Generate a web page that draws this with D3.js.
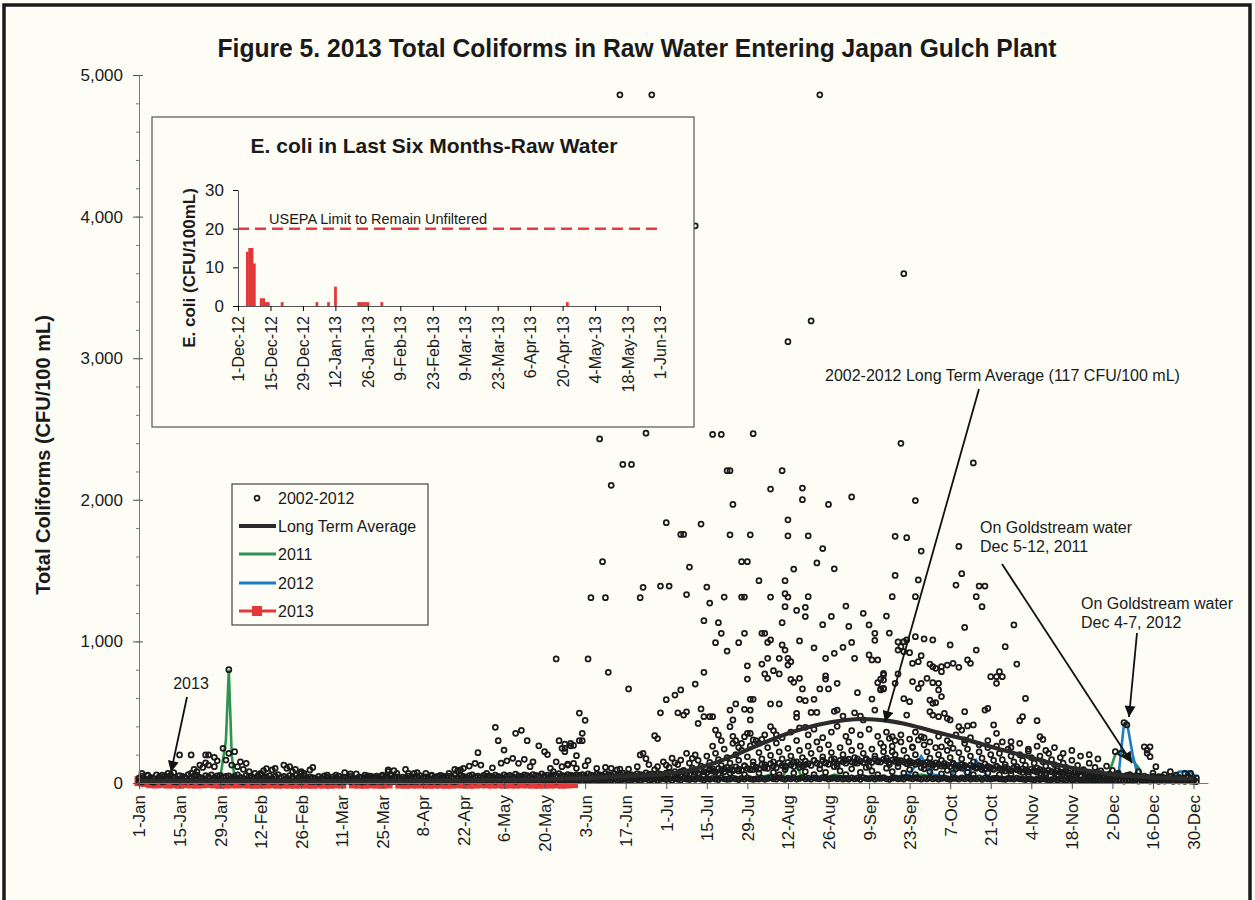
<!DOCTYPE html>
<html lang="en">
<head>
<meta charset="utf-8">
<title>Total Coliforms in Raw Water</title>
<script type="text/javascript" src="https://d3js.org/d3.v7.min.js"></script>
<style type="text/css">
    body{
        margin:0;
        background:#fdfdf5;
        font-family:"Liberation Sans", Arial, Helvetica, sans-serif;
    }
    svg text{ fill:#1a1a1a; }
</style>
</head>
<body>
<div id="chart"></div>
<script type="text/javascript">
// tick labels on the main chart (every 14 days from 1-Jan)
var tickLabels = ["1-Jan","15-Jan","29-Jan","12-Feb","26-Feb","11-Mar","25-Mar","8-Apr","22-Apr","6-May","20-May","3-Jun","17-Jun","1-Jul","15-Jul","29-Jul","12-Aug","26-Aug","9-Sep","23-Sep","7-Oct","21-Oct","4-Nov","18-Nov","2-Dec","16-Dec","30-Dec"]
var yTicks = [0,1000,2000,3000,4000,5000]

// 2002-2012 readings: lowest reading of each day, by month
var lowBandByMonth = [
    [12,8,15,20,10,6,14,18,9,12,22,16,10,8,25,14,12,18,10,15,20,8,12,16,14,10,22,18,12,9,15],
    [14,10,18,22,12,8,16,20,10,14,12,18,9,15,20,11,13,17,8,14,19,12,10,16,13,9,15,18,11],
    [10,14,8,12,16,9,13,11,15,8,12,10,14,9,16,11,13,8,12,15,10,9,14,12,8,16,11,13,10,15,9],
    [12,10,15,9,13,11,16,8,14,12,10,17,9,13,15,11,18,12,10,14,16,20,12,15,18,14,22,16,12,19],
    [15,20,12,18,24,14,16,22,18,12,20,25,16,14,22,18,20,15,24,18,16,22,20,14,26,18,22,16,20,24,18],
    [20,16,24,18,22,26,20,18,24,22,16,20,28,22,18,24,26,20,22,28,24,18,26,30,22,24,28,20,26,30],
    [24,28,20,30,26,22,32,28,24,30,26,34,28,22,30,26,32,28,24,36,30,26,28,34,30,24,32,28,36,30,26],
    [30,28,34,26,32,36,30,28,38,32,26,34,30,36,28,32,38,30,34,28,36,32,30,38,34,28,32,36,30,34,28],
    [32,28,36,30,34,26,38,32,30,36,28,34,32,38,30,26,34,36,30,32,28,38,34,30,36,32,28,34,30,36],
    [30,34,28,32,36,30,26,34,32,28,36,30,34,28,32,30,36,26,34,30,28,32,34,30,28,26,32,30,28,34,30],
    [28,24,30,26,22,28,24,30,26,20,24,28,22,26,24,20,28,22,24,26,20,22,18,24,20,22,18,20,16,22],
    [18,20,16,22,18,14,20,16,18,22,14,20,16,18,14,20,16,12,18,14,16,20,12,16,14,18,12,16,14,12,10]
]
// a second reading of each day, by month
var midBandByMonth = [
    [35,48,28,52,40,32,58,44,30,50,38,55,42,30,52,46,38,60,34,48,56,40,32,52,44,58,38,50,54,42,46],
    [50,36,46,58,40,32,54,46,42,34,50,56,38,44,52,32,48,60,40,46,34,52,42,56,38,46,52,34,44],
    [38,32,46,34,50,40,30,44,36,48,32,42,38,46,34,30,44,40,36,50,32,42,38,34,48,42,36,52,40,44,34],
    [42,36,48,32,44,40,52,38,44,34,50,40,46,54,36,44,48,42,56,38,50,46,40,52,58,44,48,42,54,48],
    [50,44,56,46,42,58,48,54,44,62,50,46,58,52,44,60,54,48,64,50,56,44,58,52,66,54,48,60,56,50,58],
    [54,60,48,64,56,50,62,58,52,68,60,54,64,50,62,70,56,62,58,52,66,60,56,72,60,64,54,68,62,58],
    [62,74,58,80,66,60,84,70,64,88,76,68,92,80,72,98,84,76,104,90,80,110,94,86,114,98,90,122,104,94,126],
    [110,98,132,114,104,136,120,108,140,124,112,146,128,116,150,132,120,154,136,124,158,140,128,162,144,132,166,148,136,160,150],
    [140,168,150,142,170,154,144,172,156,146,170,158,148,166,156,144,162,152,140,158,148,136,154,144,132,150,140,128,146,136],
    [124,142,132,120,138,128,116,134,124,112,130,120,108,126,116,104,122,112,100,118,108,96,114,104,92,110,100,88,106,96,84],
    [100,92,80,98,88,76,94,84,72,90,80,68,86,76,64,82,72,60,78,68,56,74,64,52,70,60,48,66,56,44],
    [62,52,44,58,48,40,54,46,38,50,44,36,48,40,34,46,38,32,44,36,30,42,34,28,40,32,26,38,30,26,36]
]
// summer / fall band of readings [day, CFU]
var summerBand = [[176,130],[178,95],[181,150],[183,110],[184,175],[186,130],[188,90],[190,140],[191,105],[193,160],[194,120],[196,190],[197,145],[198,100],[199,210],[200,165],[201,125],[202,240],[203,180],[204,140],[205,95],[206,200],[207,160],[208,230],[209,120],[210,185],[211,262],[212,150],[213,110],[214,215],[215,170],[216,130],[217,250],[218,195],[219,150],[220,282],[221,220],[222,170],[223,120],[224,245],[225,190],[226,150],[227,300],[228,230],[229,180],[230,130],[231,260],[232,210],[233,160],[234,290],[235,240],[236,185],[237,140],[238,270],[239,215],[240,170],[241,120],[242,250],[243,200],[244,160],[245,290],[246,230],[247,180],[248,140],[249,260],[250,210],[251,165],[252,120],[253,240],[254,190],[255,150],[256,280],[257,220],[258,175],[259,130],[260,260],[261,200],[262,160],[263,290],[264,230],[265,180],[266,140],[267,250],[268,200],[269,150],[270,110],[271,270],[272,220],[273,175],[274,130],[275,250],[276,200],[277,160],[278,120],[279,230],[280,180],[281,140],[282,100],[283,215],[284,170],[285,125],[286,240],[287,190],[288,150],[289,110],[290,220],[291,175],[292,135],[293,250],[294,200],[295,160],[296,120],[297,210],[298,165],[299,130],[300,240],[301,190],[302,150],[303,115],[304,200],[305,160],[306,125],[307,225],[308,180],[309,140],[310,105],[311,190],[312,150],[313,120],[314,210],[315,165],[316,130],[317,100],[318,180],[319,140],[320,110],[322,160],[324,125],[326,95],[328,140],[330,110],[332,85],[334,120],[336,90],[338,70],[342,60],[345,80],[350,70],[354,60],[358,55],[362,50]]
// more of the dense summer band, lower down [day, CFU]
var summerBandLow = [[180,45],[182,70],[185,55],[187,80],[189,60],[192,75],[195,55],[197,90],[200,65],[202,100],[204,70],[207,85],[209,60],[212,95],[214,70],[216,105],[219,75],[221,60],[223,95],[226,70],[228,110],[230,80],[233,60],[235,100],[237,75],[240,115],[242,85],[244,60],[246,100],[249,75],[251,110],[253,85],[255,60],[258,105],[260,80],[262,115],[264,70],[266,95],[268,60],[271,100],[273,80],[275,110],[277,65],[279,90],[281,70],[284,105],[286,75],[288,60],[291,95],[293,70],[295,100],[297,60],[299,85],[301,65],[303,95],[305,75],[307,60],[309,85],[311,70],[313,55],[315,80],[317,60],[319,75],[321,55],[323,70],[325,50],[327,65],[329,45],[331,60],[333,40],[335,55],[340,45],[344,50],[348,40],[352,45]]
// upper part of the dense summer band [day, CFU]
var summerBandHigh = [[198,260],[201,300],[205,330],[208,280],[211,350],[213,300],[216,340],[219,370],[222,320],[225,360],[228,390],[231,340],[233,380],[236,320],[239,360],[241,400],[244,330],[246,370],[249,340],[252,380],[255,330],[258,360],[261,300],[263,340],[266,310],[268,360],[271,320],[273,290],[276,330],[279,300],[282,340],[285,280],[287,320],[290,270],[293,300],[296,260],[298,290],[301,250],[304,280],[307,240],[310,260],[313,230],[316,250],[319,210],[322,230],[325,190],[328,200],[331,170]]
// scattered readings above the band [day, CFU]
var scatterPoints = [[166,4860],[177,4860],[235,4860],[192,3935],[264,3597],[232,3263],[224,3117],
    [159,2430],[175,2470],[167,2250],[170,2250],[198,2462],[201,2462],[212,2467],[263,2399],[203,2206],[204,2206],[222,2206],[288,2260],
    [163,2102],[218,2076],[229,2083],[229,2001],[238,1967],[246,2020],[205,1967],[182,1838],[194,1829],[224,1859],[187,1755],[188,1755],[204,1753],[211,1753],[224,1746],[231,1746],[236,1656],[160,1563],[208,1563],[210,1563],[234,1554],[190,1525],[226,1511],[240,1513],[214,1429],[223,1429],[174,1382],[180,1391],[183,1391],[196,1384],[156,1309],[161,1309],[173,1309],[189,1331],[202,1313],[208,1313],[209,1313],[218,1313],[223,1337],[224,1313],[231,1316],[197,1271],[223,1245],[227,1219],[230,1241],[230,1175],[244,1250],[250,1198],[258,1179],[239,1176],[195,1146],[200,1132],[222,1132],[236,1118],[245,1106],[252,1116],[201,1057],[209,1057],[215,1057],[216,1057],[254,1057],[199,991],[207,991],[218,1010],[217,993],[228,1003],[246,993],[254,1008],[222,975],[223,939],[233,955],[243,958],[203,932],
    [210,828],[210,734],[215,840],[217,881],[221,881],[224,881],[225,857],[224,833],[237,881],[240,916],[247,881],[252,904],[253,869],[255,869],[155,876],[144,876],[162,782],[169,664],[195,782],[192,699],[216,770],[217,739],[219,793],[221,770],[225,732],[226,711],[228,739],[229,664],[235,664],[238,664],[237,756],[237,734],[241,704],[248,638],[253,593],[256,734],[255,708],[257,763],[256,664],[257,664],[254,515],
    [182,588],[185,621],[187,657],[180,496],[186,496],[188,480],[189,503],[194,523],[195,468],[197,468],[198,468],[193,421],[199,374],[200,339],[178,334],[179,314],[174,210],[173,198],[175,172],[152,494],[154,443],[153,351],[152,299],[153,299],[147,275],[149,263],[147,221],[146,245],[151,193],[150,139],[148,127],[154,122],[155,158],
    [204,515],[205,445],[204,398],[206,558],[209,520],[211,515],[211,445],[218,558],[221,558],[211,591],[212,591],[228,591],[230,581],[233,591],[232,498],[234,498],[227,492],[227,464],[230,393],[240,506],[241,515],[243,473],[247,496],[249,473],[250,445],[218,398],[220,339],[206,299],[205,280],[207,251],[209,327],[210,351],[212,304],[214,280],[215,308],
    [268,1995],[261,1742],[265,1732],[283,1671],[270,1638],[261,1466],[269,1434],[284,1478],[282,1398],[290,1391],[292,1391],[289,1316],[291,1245],[260,1316],[268,1316],[302,1116],[285,1099],[259,1059],[268,1033],[271,1017],[274,1010],[262,996],[264,998],[263,963],[264,927],[262,939],[265,1010],[280,975],[266,920],[289,939],[299,963],[270,899],[269,857],[267,845],[273,840],[274,821],[275,810],[277,821],[279,833],[277,786],[281,845],[283,817],[286,869],[287,845],[294,751],[296,751],[297,786],[298,751],[296,704],[303,840],[257,775],[257,727],[256,657],[257,669],[261,704],[262,770],[267,716],[269,669],[270,704],[272,739],[274,708],[276,704],[276,657],[277,610],[273,586],[274,563],[275,567],[306,597],[264,595],[266,574],[273,504],[274,480],[276,468],[278,492],[279,457],[280,445],[285,504],[292,515],[293,527],[305,468],[304,440],[310,440],[265,480],[311,327],[312,308],[295,410],[296,351],[301,292],[283,398],[284,374],[286,403],[288,410],[259,316],[260,327],[257,256],[260,221],[277,256],[280,280],[281,245],[285,304],[269,304],[270,327],[267,256],
    [347,256],[348,233],[349,256],[348,210],[349,186],[351,115],[337,221],[339,210],[340,426],[341,410],[361,68],[363,68],[356,80],
    [14,198],[18,198],[23,198],[24,198],[26,181],[21,127],[23,143],[24,127],[22,110],[27,157],[26,115],[30,162],[31,210],[33,221],[32,127],[34,115],[35,150],[37,139],[36,97],[19,97],[18,68],[20,80],[10,68],[8,56],[12,73],[1,68],[3,56],[38,80],[40,68],[43,87],[44,101],[46,92],[47,104],[42,68],[50,127],[51,104],[53,80],[54,97],[52,115],[56,68],[57,68],[59,92],[60,110],[56,80],[65,56],[68,56],[71,73],[73,64],[75,64],[78,56],[80,49],[82,49],[86,80],[88,87],[89,68],[87,56],[92,97],[93,68],[95,68],[31,800],[29,245],
    [84,56],[86,92],[96,73],[99,68],[101,56],[105,49],[107,68],[109,97],[110,87],
    [123,393],[130,351],[132,372],[124,299],[126,233],[117,214],[134,299],[138,263],[140,221],[141,201],[145,299],[147,245],[149,280],[150,265],[127,157],[129,174],[131,139],[133,167],[135,115],[136,150],[122,107],[125,140],[114,120],[116,139],[118,127],[120,68],[111,92],[112,104],[142,104],[143,80],[144,150],[146,115],[148,134],[151,104],[158,104],[161,111],[163,104],[165,92],[172,115],[169,98],[166,98],[179,115],[182,127],[185,143],[187,162],[189,210],[191,174],[192,198]]

// 2002-2012 long term average [day, CFU]
var longTermAvg = [[0,15],[30,15],[60,15],[90,15],[120,20],[140,25],[155,35],[170,50],[182,65],[190,90],[197,130],[205,190],[214,270],[224,350],[234,410],[244,445],[250,452],[258,440],[266,410],[275,360],[285,310],[295,250],[305,195],[315,140],[325,95],[335,65],[345,45],[355,35],[364,30]]
// 2011 and 2012 daily series (sampled) [day, CFU]
var series2011 = [[0,15],[7,20],[14,15],[21,25],[28,30],[30,300],[31,800],[32,200],[33,30],[40,20],[50,15],[60,15],[75,10],[90,15],[105,15],[120,20],[135,20],[150,25],[165,25],[180,25],[195,25],[205,30],[212,25],[218,60],[222,40],[226,170],[229,30],[236,30],[240,60],[246,30],[255,40],[262,30],[270,60],[280,25],[286,50],[290,20],[292,30],[300,25],[310,20],[320,20],[330,15],[334,20],[337,200],[339,230],[341,200],[343,160],[345,110],[347,20],[355,20],[365,20]]
var series2012 = [[0,20],[14,15],[28,20],[42,20],[60,20],[80,15],[100,20],[120,25],[140,25],[160,25],[180,30],[195,30],[210,30],[218,25],[224,40],[230,30],[240,40],[250,30],[260,40],[266,60],[270,190],[274,60],[280,40],[283,140],[286,40],[289,160],[293,40],[300,30],[310,30],[320,25],[330,20],[336,20],[338,30],[340,420],[341,430],[343,200],[345,30],[350,25],[356,30],[359,80],[363,80],[365,40]]
// 2013 readings, one every second day from 1-Jan (null = no sample)
var values2013 = [20,14,6,4,8,3,5,2,6,4,3,5,8,4,2,3,5,4,6,3,2,4,3,5,2,4,3,2,5,3,2,4,3,2,5,3,null,4,3,2,5,3,2,4,null,3,2,4,3,5,2,3,4,2,3,5,4,2,3,6,4,3,5,2,4,3,5,4,3,2,4,3,5,2,4,6]

// inset: E. coli, days after 1-Dec-12 and CFU/100mL
var ecoliDays = [4,5,6,7,10,11,12,13,19,34,39,42,52,53,54,55,56,62,142]
var ecoliValues = [14,15,15,11,2,2,1,1,1,1,1,5,1,1,1,1,1,1,1]
var usepaLimit = 20
var insetYTicks = [0,10,20,30]

var legendItems = ["2002-2012","Long Term Average","2011","2012","2013"]

var W = 1255, H = 900
var svg = d3.select("#chart").append("svg").attr("width",W).attr("height",H)
svg.append("rect").attr("width",W).attr("height",H).attr("fill","#fdfdf5")

var defs = svg.append("defs")
defs.append("marker").attr("id","arr").attr("viewBox","0 0 10 10")
    .attr("refX",10).attr("refY",5).attr("markerUnits","userSpaceOnUse")
    .attr("markerWidth",13).attr("markerHeight",11).attr("orient","auto")
    .append("path").attr("d","M0,0 L10,5 L0,10 z").attr("fill","#111")

var x = d3.scaleLinear().domain([0,369]).range([139,1208])
var y = d3.scaleLinear().domain([0,5000]).range([783,75])

// title
svg.append("text").attr("x",637).attr("y",57).attr("text-anchor","middle")
    .attr("font-size","26px").attr("font-weight","bold")
    .attr("textLength",839).attr("lengthAdjust","spacingAndGlyphs")
    .text("Figure 5. 2013 Total Coliforms in Raw Water Entering Japan Gulch Plant")

svg.append("text").attr("transform","translate(50,455) rotate(-90)")
    .attr("text-anchor","middle").attr("font-size","20px").attr("font-weight","bold")
    .text("Total Coliforms (CFU/100 mL)")

var plot = svg.append("g")

// 2013 line with square markers
var pts2013 = values2013.map(function(v,i){ return [i*2, v] })
var line = d3.line().defined(function(d){ return d[1] !== null }).x(function(d){ return x(d[0]) }).y(function(d){ return y(d[1]) })
plot.append("path").datum(pts2013).attr("d",line).attr("fill","none").attr("stroke","#e2383a").attr("stroke-width",3)
plot.selectAll(".sq13").data(pts2013.filter(function(d){ return d[1] !== null })).enter().append("rect")
    .attr("x",function(d){ return x(d[0])-4.5 }).attr("y",function(d){ return y(d[1])-4 })
    .attr("width",9).attr("height",10).attr("fill","#e2383a")

plot.append("path").datum(series2011).attr("d",line).attr("fill","none").attr("stroke","#2e9450").attr("stroke-width",2.6)
plot.append("path").datum(series2012).attr("d",line).attr("fill","none").attr("stroke","#1d7cc6").attr("stroke-width",2.6)

// 2002-2012 scatter
var lowBand = lowBandByMonth.flat().map(function(v,i){ return [i,v] })
var midBand = midBandByMonth.flat().map(function(v,i){ return [i,v] })
var allPoints = lowBand.concat(midBand, summerBandLow, summerBand, summerBandHigh, scatterPoints)
plot.selectAll(".dot").data(allPoints).enter().append("circle")
    .attr("cx",function(d){ return x(d[0]) }).attr("cy",function(d){ return y(d[1]) })
    .attr("r",2.5).attr("fill","none").attr("stroke","#1a1a1a").attr("stroke-width",1.75)

// long term average
plot.append("path").datum(longTermAvg)
    .attr("d",d3.line().curve(d3.curveMonotoneX).x(function(d){ return x(d[0]) }).y(function(d){ return y(d[1]) }))
    .attr("fill","none").attr("stroke","#2b2b2b").attr("stroke-width",4.2)

// axes
var yAxisG = svg.append("g").attr("transform","translate(139,0)")
    .call(d3.axisLeft(y).tickValues(yTicks).tickFormat(d3.format(",")).tickSizeInner(6).tickSizeOuter(0).tickPadding(10))
yAxisG.select(".domain").attr("stroke","#7a7a7a")
yAxisG.selectAll(".tick line").attr("stroke","#555").attr("x2",-6).attr("x1",4)
yAxisG.selectAll("text").attr("font-size","17px").attr("font-family","'Liberation Sans', Arial, sans-serif").attr("fill","#1a1a1a")
svg.append("g").attr("transform","translate(139,0)")
    .call(d3.axisLeft(y).tickValues(d3.range(200,5000,200)).tickFormat("").tickSize(3).tickSizeOuter(0))
    .call(function(g){ g.select(".domain").remove(); g.selectAll("line").attr("stroke","#777") })

var xAxisG = svg.append("g").attr("transform","translate(0,783)")
    .call(d3.axisBottom(x).tickValues(d3.range(0,365,14)).tickFormat(function(d,i){ return tickLabels[i] }).tickSizeInner(6).tickSizeOuter(0))
xAxisG.select(".domain").attr("stroke","#777")
xAxisG.selectAll(".tick line").attr("stroke","#555")
xAxisG.selectAll("text").attr("font-size","17px").attr("font-family","'Liberation Sans', Arial, sans-serif").attr("fill","#1a1a1a")
    .attr("transform","rotate(-90)").attr("text-anchor","end").attr("x",-12).attr("y",0).attr("dy","0.35em")

// legend
var lg = svg.append("g")
lg.append("rect").attr("x",232).attr("y",484).attr("width",196).attr("height",141)
    .attr("fill","#fdfdf5").attr("stroke","#444").attr("stroke-width",1.2)
var legendY = [498,526,554,583,611]
var legendColor = ["#1a1a1a","#2b2b2b","#2e9450","#1d7cc6","#e2383a"]
legendItems.forEach(function(name,i){
    var ly = legendY[i]
    if(i==0){
        lg.append("circle").attr("cx",257).attr("cy",ly).attr("r",2.5).attr("fill","none").attr("stroke","#1a1a1a").attr("stroke-width",1.75)
    }else{
        lg.append("line").attr("x1",239).attr("x2",276).attr("y1",ly).attr("y2",ly)
            .attr("stroke",legendColor[i]).attr("stroke-width",i==1?4.2:3)
        if(i==4){
            lg.append("rect").attr("x",252).attr("y",ly-5).attr("width",10).attr("height",10).attr("fill",legendColor[i])
        }
    }
    lg.append("text").attr("x",278).attr("y",ly).attr("dy","0.35em").attr("font-size","16px").text(name)
})

// inset chart
var inset = svg.append("g")
inset.append("rect").attr("x",152).attr("y",117).attr("width",542).attr("height",310)
    .attr("fill","#fdfdf5").attr("stroke","#555").attr("stroke-width",1.2)
inset.append("text").attr("x",434).attr("y",153).attr("text-anchor","middle")
    .attr("font-size","21px").attr("font-weight","bold").text("E. coli in Last Six Months-Raw Water")
inset.append("text").attr("transform","translate(195,268) rotate(-90)").attr("text-anchor","middle")
    .attr("font-size","17px").attr("font-weight","bold").text("E. coli (CFU/100mL)")

var start = new Date(2012,11,1), end = new Date(2013,5,1)
var ix = d3.scaleTime().domain([start,end]).range([238,660])
var iy = d3.scaleLinear().domain([0,30]).range([306,190])

inset.append("line").attr("x1",ix(start)).attr("x2",ix(end)).attr("y1",iy(usepaLimit)).attr("y2",iy(usepaLimit))
    .attr("stroke","#e8384a").attr("stroke-width",2.5).attr("stroke-dasharray","11,6")
inset.append("text").attr("x",269).attr("y",224).attr("font-size","14.5px").text("USEPA Limit to Remain Unfiltered")

inset.selectAll(".bar").data(ecoliDays).enter().append("rect")
    .attr("x",function(d){ return ix(d3.timeDay.offset(start,d))-1.3 })
    .attr("y",function(d,i){ return iy(ecoliValues[i]) })
    .attr("width",2.8)
    .attr("height",function(d,i){ return iy(0)-iy(ecoliValues[i]) })
    .attr("fill","#e2383a")

var iyAxis = inset.append("g").attr("transform","translate(238,0)")
    .call(d3.axisLeft(iy).tickValues(insetYTicks).tickSizeInner(5).tickSizeOuter(0).tickPadding(9))
iyAxis.select(".domain").attr("stroke","#555")
iyAxis.selectAll("text").attr("font-size","17px").attr("font-family","'Liberation Sans', Arial, sans-serif").attr("fill","#1a1a1a")

var ixTicks = d3.range(0,183,14).map(function(d){ return d3.timeDay.offset(start,d) })
var ixAxis = inset.append("g").attr("transform","translate(0,306)")
    .call(d3.axisBottom(ix).tickValues(ixTicks).tickFormat(d3.timeFormat("%-d-%b-%y")).tickSizeInner(5).tickSizeOuter(0))
ixAxis.select(".domain").attr("stroke","#555")
ixAxis.selectAll("text").attr("font-size","16px").attr("font-family","'Liberation Sans', Arial, sans-serif").attr("fill","#1a1a1a")
    .attr("transform","rotate(-90)").attr("text-anchor","end").attr("x",-10).attr("y",0).attr("dy","0.35em")

// annotations
var notes = svg.append("g").attr("font-size","16px")
notes.append("text").attr("x",191).attr("y",689).attr("text-anchor","middle").text("2013")
notes.append("text").attr("x",825).attr("y",381).text("2002-2012 Long Term Average (117 CFU/100 mL)")
notes.append("text").attr("x",980).attr("y",533).text("On Goldstream water")
notes.append("text").attr("x",980).attr("y",552).text("Dec 5-12, 2011")
notes.append("text").attr("x",1081).attr("y",609).text("On Goldstream water")
notes.append("text").attr("x",1081).attr("y",628).text("Dec 4-7, 2012")

var arrows = [[187,697,171,772],[979,389,885,722],[1002,564,1132,763],[1137,633,1129,717]]
arrows.forEach(function(a){
    notes.append("line").attr("x1",a[0]).attr("y1",a[1]).attr("x2",a[2]).attr("y2",a[3])
        .attr("stroke","#111").attr("stroke-width",1.8).attr("marker-end","url(#arr)")
})

// scanned page frame
svg.append("rect").attr("x",4).attr("y",5).attr("width",1246).attr("height",930)
    .attr("fill","none").attr("stroke","#1a1a1a").attr("stroke-width",3.5)
</script>
</body>
</html>
